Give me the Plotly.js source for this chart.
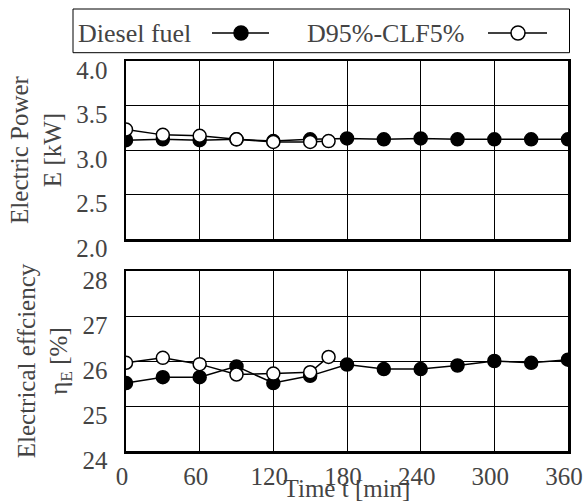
<!DOCTYPE html>
<html>
<head>
<meta charset="utf-8">
<script src="https://cdn.plot.ly/plotly-3.0.1.min.js"></script>
<style>
html,body{margin:0;padding:0;background:#fff;}
#chart{width:585px;height:502px;}
</style>
</head>
<body>
<div id="chart"></div>
<script>
// ---- data ----
const timeDiesel = [0, 30, 60, 90, 120, 150, 180, 210, 240, 270, 300, 330, 360];
const powerDiesel = [3.11, 3.12, 3.11, 3.12, 3.10, 3.12, 3.13, 3.12, 3.13, 3.12, 3.12, 3.12, 3.12];
const effDiesel = [25.51, 25.64, 25.64, 25.88, 25.51, 25.67, 25.92, 25.82, 25.82, 25.90, 26.00, 25.96, 26.03];

const timeBlend = [0, 30, 60, 90, 120, 150, 165];
const powerBlend = [3.23, 3.17, 3.16, 3.12, 3.09, 3.09, 3.10];
const effBlend = [25.96, 26.07, 25.93, 25.70, 25.72, 25.75, 26.09];

const seriesNames = ["Diesel fuel", "D95%-CLF5%"];
const xTicks = [0, 60, 120, 180, 240, 300, 360];
const powerTicks = [2.0, 2.5, 3.0, 3.5, 4.0];
const effTicks = [24, 25, 26, 27, 28];

// ---- layout geometry ----
const W = 585, H = 502;
const M = {l: 126, r: 17, t: 61, b: 51};
const PW = W - M.l - M.r, PH = H - M.t - M.b;
const px = v => (v - M.l) / PW;          // pixel x -> paper x
const py = v => (H - M.b - v) / PH;      // pixel y -> paper y

const fam = "serif";

const filledMarker = {color: 'black', size: 13, line: {color: 'black', width: 1.5}};
const openMarker = {color: 'white', size: 13, line: {color: 'black', width: 1.5}};
const lineStyle = {color: 'black', width: 1.5};

const traces = [
  {x: timeDiesel, y: powerDiesel, xaxis: 'x2', yaxis: 'y2', mode: 'lines+markers', name: seriesNames[0], marker: filledMarker, line: lineStyle, showlegend: false},
  {x: timeBlend, y: powerBlend, xaxis: 'x2', yaxis: 'y2', mode: 'lines+markers', name: seriesNames[1], marker: openMarker, line: lineStyle, showlegend: false},
  {x: timeDiesel, y: effDiesel, xaxis: 'x', yaxis: 'y', mode: 'lines+markers', name: seriesNames[0], marker: filledMarker, line: lineStyle, showlegend: false},
  {x: timeBlend, y: effBlend, xaxis: 'x', yaxis: 'y', mode: 'lines+markers', name: seriesNames[1], marker: openMarker, line: lineStyle, showlegend: false}
];

const axisCommon = {
  showline: true, linecolor: 'black', linewidth: 2.5, mirror: true,
  showgrid: true, gridcolor: 'black', gridwidth: 1,
  zeroline: false, ticks: ''
};

const legY = 33;
const legendShapes = [
  {type: 'rect', xref: 'paper', yref: 'paper', x0: px(73), x1: px(569.5), y0: py(52.7), y1: py(9), line: {color: 'black', width: 1}, fillcolor: 'white'},
  {type: 'line', xref: 'paper', yref: 'paper', x0: px(212), x1: px(269), y0: py(legY), y1: py(legY), line: {color: 'black', width: 1.5}},
  {type: 'line', xref: 'paper', yref: 'paper', x0: px(488), x1: px(547), y0: py(legY), y1: py(legY), line: {color: 'black', width: 1.5}},
  {type: 'circle', xref: 'paper', yref: 'paper', xsizemode: 'pixel', ysizemode: 'pixel', xanchor: px(241), yanchor: py(legY), x0: -7, x1: 7, y0: -7, y1: 7, fillcolor: 'black', line: {color: 'black', width: 1.5}},
  {type: 'circle', xref: 'paper', yref: 'paper', xsizemode: 'pixel', ysizemode: 'pixel', xanchor: px(518), yanchor: py(legY), x0: -7, x1: 7, y0: -7, y1: 7, fillcolor: 'white', line: {color: 'black', width: 1.5}}
];

const layout = {
  width: W, height: H,
  margin: M,
  showlegend: false,
  xaxis: Object.assign({}, axisCommon, {
    anchor: 'y', range: [0, 360], tickvals: xTicks, ticktext: xTicks.map(String),
    tickfont: {family: fam, size: 25},
    ticklabelshift: -4, ticklabelstandoff: 1,
    title: {text: 'Time t [min]', font: {family: fam, size: 25}, standoff: 0}
  }),
  xaxis2: Object.assign({}, axisCommon, {
    anchor: 'y2', range: [0, 360], tickvals: xTicks, showticklabels: false, matches: 'x'
  }),
  yaxis: Object.assign({}, axisCommon, {
    anchor: 'x', domain: [0, py(271)], range: [24, 28], tickvals: effTicks, ticktext: effTicks.map(String),
    tickfont: {family: fam, size: 25},
    ticklabelshift: 9, ticklabelstandoff: 11,
    title: {text: 'Electrical effciency<br>η<sub>E</sub> [%]', font: {family: fam, size: 25}, standoff: 8}
  }),
  yaxis2: Object.assign({}, axisCommon, {
    anchor: 'x2', domain: [py(239), 1], range: [2, 4], tickvals: powerTicks, ticktext: powerTicks.map(v => v.toFixed(1)),
    tickfont: {family: fam, size: 25},
    ticklabelshift: 9, ticklabelstandoff: 11,
    title: {text: 'Electric Power<br>E [kW]', font: {family: fam, size: 25}, standoff: 8}
  }),
  shapes: legendShapes,
  annotations: [
    {xref: 'paper', yref: 'paper', x: px(76), y: py(legY), xanchor: 'left', yanchor: 'middle', text: seriesNames[0], showarrow: false, font: {family: fam, size: 26}},
    {xref: 'paper', yref: 'paper', x: px(305), y: py(legY), xanchor: 'left', yanchor: 'middle', text: seriesNames[1], showarrow: false, font: {family: fam, size: 26}}
  ]
};

Plotly.newPlot('chart', traces, layout, {staticPlot: true});
</script>
</body>
</html>
